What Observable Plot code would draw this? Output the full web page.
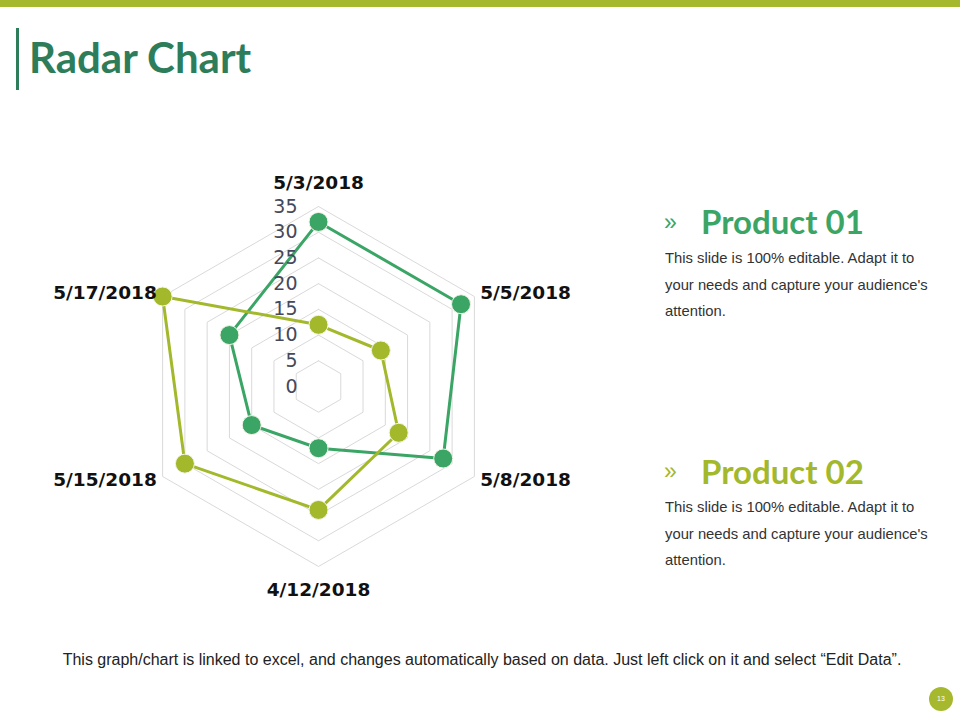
<!DOCTYPE html>
<html>
<head>
<meta charset="utf-8">
<script src="https://cdn.jsdelivr.net/npm/d3@7"></script>
<script src="https://cdn.jsdelivr.net/npm/@observablehq/plot@0.6"></script>
<style>
  html, body { margin: 0; padding: 0; background: #fff; }
  #page { position: relative; width: 960px; height: 720px; overflow: hidden; background: #fff; }
  .abs { position: absolute; white-space: nowrap; }
  #topbar { left: 0; top: 0; width: 960px; height: 7px; background: #a6b92e; }
  #titlebar { left: 16px; top: 28px; width: 3px; height: 62px; background: #2e7d5a; }
  #title { left: 29px; top: 32px; font-family: "Lato", sans-serif; font-weight: 700; font-size: 42px; color: #2e7d5a; line-height: 50px; }
  .head { font-family: "Lato", sans-serif; font-weight: 700; font-size: 33px; line-height: 38px; }
  .chev { font-family: "Liberation Sans", Arial, sans-serif; font-size: 23px; }
  .body { font-family: "Liberation Sans", Arial, sans-serif; font-size: 14.8px; color: #333; line-height: 26.5px; white-space: normal; width: 270px; }
  #footer { left: 0; width: 964px; text-align: center; top: 651px; font-family: "Liberation Sans", Arial, sans-serif; font-size: 16px; color: #222; }
  #pagenum { left: 929px; top: 687px; width: 24px; height: 24px; border-radius: 50%; background: #a6b92e; color: #fff; font-family: "Liberation Sans", Arial, sans-serif; font-size: 7px; text-align: center; line-height: 24px; }
  #chart { left: 0; top: 150px; }
</style>
</head>
<body>
<div id="page">
  <div id="topbar" class="abs"></div>
  <div id="titlebar" class="abs"></div>
  <div id="title" class="abs">Radar Chart</div>

  <div class="abs chev" style="left:664px; top:209px; color:#3aa565;">»</div>
  <div class="abs head" style="left:701px; top:202px; color:#3aa565;">Product 01</div>
  <div class="abs body" style="left:665px; top:245px;">This slide is 100% editable. Adapt it to your needs and capture your audience's attention.</div>

  <div class="abs chev" style="left:664px; top:458px; color:#a3b82b;">»</div>
  <div class="abs head" style="left:701px; top:452px; color:#a3b82b;">Product 02</div>
  <div class="abs body" style="left:665px; top:494px;">This slide is 100% editable. Adapt it to your needs and capture your audience's attention.</div>

  <div id="footer" class="abs">This graph/chart is linked to excel, and changes automatically based on data. Just left click on it and select “Edit Data”.</div>
  <div id="pagenum" class="abs">13</div>
  <div id="chart" class="abs"></div>
</div>
<script>
// ---- Data ----
const categories = ["5/3/2018", "5/5/2018", "5/8/2018", "4/12/2018", "5/15/2018", "5/17/2018"];
const product01 = [32, 32, 28, 12, 15, 20];
const product02 = [12, 14, 18, 24, 30, 35];
const seriesNames = ["Product 01", "Product 02"];
const seriesColors = ["#3aa565", "#a3b82b"];
const tickValues = [0, 5, 10, 15, 20, 25, 30, 35];
const gridValues = [5, 10, 15, 20, 25, 30, 35];

// ---- Geometry helpers ----
const W = 640, H = 470;
const cx = 318, cy = 236;           // centre in svg px
const maxV = 35, R = 180;           // px radius of 35
const k = R / maxV;
const n = categories.length;
const ang = i => (i * 2 * Math.PI) / n;  // clockwise from top
const px = (v, i) => v * Math.sin(ang(i));
const py = (v, i) => v * Math.cos(ang(i));

// grid rings (closed)
const rings = [];
for (const g of gridValues) for (let i = 0; i <= n; i++) rings.push({ring: g, x: px(g, i % n), y: py(g, i % n)});

// series points
const seriesValues = [product01, product02];
const pts = [];
seriesValues.forEach((vals, s) => vals.forEach((v, i) => pts.push({series: seriesNames[s], cat: categories[i], v, x: px(v, i), y: py(v, i)})));
const closed = [];
seriesValues.forEach((vals, s) => { for (let i = 0; i <= n; i++) closed.push({series: seriesNames[s], x: px(vals[i % n], i % n), y: py(vals[i % n], i % n)}); });

// category labels
const labs = categories.map((c, i) => {
  const vertical = (i === 0 || i === n / 2);
  const lr = vertical ? 39.5 : 36.3;
  return {label: c, i, x: px(lr, i), y: py(lr, i), side: vertical ? "middle" : (Math.sin(ang(i)) > 0 ? "start" : "end")};
});

const labelFont = {fontFamily: "DejaVu Sans", fontWeight: "bold", fontSize: 18.5, fill: "#111"};

const chart = Plot.plot({
  width: W, height: H,
  margin: 0,
  style: {background: "transparent", overflow: "visible"},
  x: {domain: [-cx / k, (W - cx) / k], axis: null},
  y: {domain: [-(H - cy) / k, cy / k], axis: null},
  color: {domain: seriesNames, range: seriesColors},
  marks: [
    Plot.line(rings, {x: "x", y: "y", z: "ring", stroke: "#d9d9d9", strokeWidth: 1}),
    Plot.line(closed, {x: "x", y: "y", z: "series", stroke: "series", strokeWidth: 3}),
    Plot.dot(pts, {x: "x", y: "y", r: 9.5, fill: "series", stroke: "#f4f4e8", strokeWidth: 1}),
    Plot.text(tickValues, {x: 0, y: d => d, text: d => String(d), textAnchor: "end", dx: -21, fontFamily: "DejaVu Sans", fontSize: 19, fill: "#45485a"}),
    Plot.text(labs.filter(d => d.side === "middle"), {x: "x", y: "y", text: "label", textAnchor: "middle", ...labelFont}),
    Plot.text(labs.filter(d => d.side === "start"), {x: "x", y: "y", text: "label", textAnchor: "start", ...labelFont}),
    Plot.text(labs.filter(d => d.side === "end"), {x: "x", y: "y", text: "label", textAnchor: "end", ...labelFont})
  ]
});
document.getElementById("chart").appendChild(chart);
</script>
</body>
</html>
